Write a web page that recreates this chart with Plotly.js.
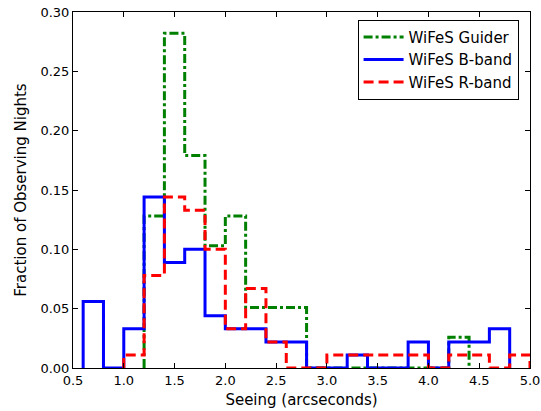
<!DOCTYPE html>
<html>
<head>
<meta charset="utf-8">
<script src="https://cdn.plot.ly/plotly-3.0.1.min.js"></script>
<style>html,body{margin:0;padding:0;background:#fff;}#chart{width:541px;height:411px;}</style>
</head>
<body>
<div id="chart"></div>
<script>
// Histogram bin width and series (fraction of observing nights per 0.2" bin)
var binWidth = 0.2;

var guiderStart = 1.2;
var guiderValues = [0.128, 0.282, 0.179, 0.103, 0.128, 0.051, 0.051, 0.051,
                    0, 0, 0, 0, 0, 0, 0, 0.026];

var bbandStart = 0.6;
var bbandValues = [0.056, 0, 0.033, 0.144, 0.089, 0.100, 0.044, 0.033, 0.033, 0.022,
                   0.022, 0, 0, 0.011, 0, 0, 0.022, 0, 0.022, 0.022, 0.033];

var rbandStart = 1.0;
var rbandValues = [0.011, 0.078, 0.144, 0.133, 0.100, 0.033, 0.067, 0.022, 0, 0,
                   0.011, 0.011, 0.011, 0.011, 0.011, 0, 0.011, 0.011, 0, 0.011];

var seriesNames = ["WiFeS Guider", "WiFeS B-band", "WiFeS R-band"];

var xTicks = [0.5, 1.0, 1.5, 2.0, 2.5, 3.0, 3.5, 4.0, 4.5, 5.0];
var yTicks = [0.00, 0.05, 0.10, 0.15, 0.20, 0.25, 0.30];

function stepOutline(start, values) {
  var xs = [start], ys = [0];
  for (var i = 0; i < values.length; i++) {
    xs.push(+(start + i * binWidth).toFixed(4));
    ys.push(values[i]);
  }
  xs.push(+(start + values.length * binWidth).toFixed(4));
  ys.push(0);
  return {x: xs, y: ys};
}

var g = stepOutline(guiderStart, guiderValues);
var b = stepOutline(bbandStart, bbandValues);
var r = stepOutline(rbandStart, rbandValues);

var traces = [
  {x: g.x, y: g.y, name: seriesNames[0], mode: "lines",
   line: {shape: "hv", color: "#008000", width: 3, dash: "9px,3px,3px,3px"}},
  {x: b.x, y: b.y, name: seriesNames[1], mode: "lines",
   line: {shape: "hv", color: "#0000ff", width: 3}},
  {x: r.x, y: r.y, name: seriesNames[2], mode: "lines",
   line: {shape: "hv", color: "#ff0000", width: 3, dash: "10px,5px"}}
];

var fontFam = "DejaVu Sans, sans-serif";
var layout = {
  width: 541, height: 411,
  margin: {l: 73, r: 11, t: 12, b: 43},
  paper_bgcolor: "#ffffff", plot_bgcolor: "#ffffff",
  font: {family: fontFam, size: 13, color: "#000"},
  showlegend: true,
  legend: {x: 0.975, y: 0.978, xanchor: "right", yanchor: "top",
           bgcolor: "#ffffff", bordercolor: "#000", borderwidth: 1,
           font: {family: fontFam, size: 15}, tracegroupgap: 0, itemwidth: 40},
  xaxis: {
    range: [0.5, 5.0], tickvals: xTicks, ticktext: xTicks.map(function(v){return v.toFixed(1);}),
    ticks: "inside", ticklen: 5, tickcolor: "#000", mirror: "ticks",
    showline: true, linecolor: "#000", linewidth: 1, showgrid: false, zeroline: false,
    tickfont: {size: 13},
    title: {text: "Seeing (arcseconds)", font: {size: 15}, standoff: 7}
  },
  yaxis: {
    range: [0, 0.30], tickvals: yTicks, ticktext: yTicks.map(function(v){return v.toFixed(2);}),
    ticks: "inside", ticklen: 5, tickcolor: "#000", mirror: "ticks",
    showline: true, linecolor: "#000", linewidth: 1, showgrid: false, zeroline: false,
    tickfont: {size: 13},
    title: {text: "Fraction of Observing Nights", font: {size: 15}, standoff: 10}
  }
};

Plotly.newPlot("chart", traces, layout, {displayModeBar: false, staticPlot: true});
</script>
</body>
</html>
